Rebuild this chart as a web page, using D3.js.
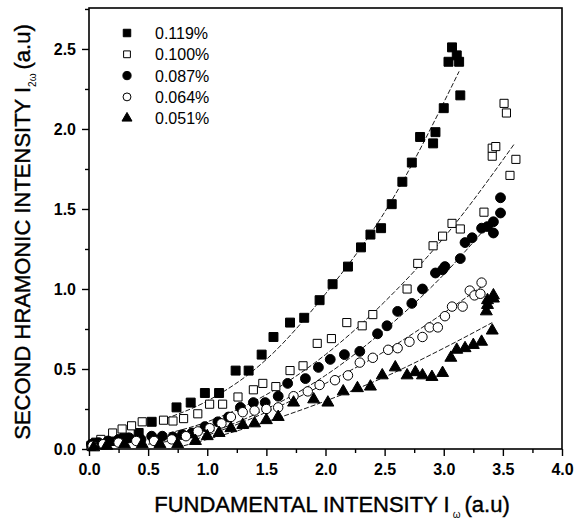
<!DOCTYPE html>
<html>
<head>
<meta charset="utf-8">
<script src="https://cdn.jsdelivr.net/npm/d3@7"></script>
<style>
  body { margin: 0; background: #fff; }
  text { font-family: "Liberation Sans", Arial, sans-serif; }
</style>
</head>
<body>
<div id="content"></div>
<script>
// series labels, same order as in the legend
var seriesNames = ['0.119%', '0.100%', '0.087%', '0.064%', '0.051%'];

var s119 = [[0.02,0.02],[0.06,0.04],[0.12,0.03],[0.2,0.05],[0.3,0.07],[0.42,0.1],[0.53,0.17],
  [0.74,0.26],[0.86,0.29],[0.98,0.35],[1.10,0.35],[1.24,0.49],[1.35,0.49],[1.46,0.59],[1.56,0.70],
  [1.70,0.79],[1.82,0.82],[1.95,0.93],[2.06,1.03],[2.19,1.14],[2.30,1.26],[2.38,1.34],[2.47,1.38],
  [2.56,1.53],[2.65,1.67],[2.73,1.79],[2.80,1.95],[2.91,1.91],[2.93,1.98],[3.00,2.13],[3.04,2.42],
  [3.07,2.51],[3.11,2.46],[3.13,2.42],[3.14,2.21]];
var s100 = [[0.02,0.02],[0.1,0.06],[0.2,0.1],[0.28,0.125],[0.36,0.145],[0.45,0.17],[0.63,0.18],
  [0.71,0.175],[0.80,0.19],[0.92,0.22],[1.02,0.28],[1.13,0.28],[1.26,0.325],[1.39,0.37],[1.47,0.41],
  [1.58,0.39],[1.70,0.49],[1.81,0.52],[1.93,0.66],[2.05,0.69],[2.18,0.79],[2.31,0.77],[2.40,0.84],
  [2.69,1.0],[2.78,1.16],[2.91,1.27],[2.99,1.33],[3.07,1.41],[3.14,1.375],[3.34,1.48],[3.41,1.83],
  [3.41,1.88],[3.44,1.89],[3.51,2.16],[3.53,2.1],[3.56,1.71],[3.61,1.81]];
var s087 = [[0.02,0.03],[0.08,0.04],[0.16,0.05],[0.25,0.06],[0.34,0.07],[0.44,0.06],[0.53,0.08],
  [0.62,0.08],[0.71,0.075],[0.79,0.09],[0.87,0.10],[0.98,0.14],[1.09,0.17],[1.18,0.20],[1.28,0.26],
  [1.39,0.29],[1.49,0.29],[1.60,0.33],[1.68,0.41],[1.83,0.44],[1.94,0.51],[2.04,0.56],[2.16,0.59],
  [2.29,0.61],[2.44,0.72],[2.52,0.77],[2.61,0.86],[2.73,0.91],[2.82,1.0],[2.93,1.1],[2.99,1.12],
  [3.01,1.14],[3.14,1.19],[3.18,1.29],[3.24,1.32],[3.32,1.38],[3.37,1.39],[3.42,1.42],[3.42,1.35],
  [3.48,1.475],[3.48,1.57]];
var s064 = [[0.03,0.02],[0.12,0.03],[0.25,0.04],[0.4,0.05],[0.55,0.05],[0.7,0.06],[0.82,0.08],
  [0.92,0.11],[1.02,0.13],[1.12,0.16],[1.2,0.2],[1.3,0.23],[1.4,0.24],[1.5,0.25],[1.6,0.26],
  [1.73,0.33],[1.85,0.36],[1.95,0.40],[2.08,0.43],[2.19,0.46],[2.29,0.54],[2.40,0.57],[2.53,0.62],
  [2.61,0.63],[2.71,0.67],[2.82,0.70],[2.88,0.76],[2.95,0.76],[3.01,0.83],[3.07,0.89],[3.16,0.89],
  [3.22,0.99],[3.26,0.96],[3.31,0.97],[3.32,1.04]];
var s051 = [[0.04,0.01],[0.15,0.02],[0.3,0.03],[0.45,0.03],[0.6,0.03],[0.75,0.03],[0.9,0.05],
  [1.0,0.08],[1.1,0.1],[1.2,0.13],[1.3,0.15],[1.4,0.16],[1.5,0.18],[1.6,0.2],[1.73,0.29],[1.90,0.31],
  [2.02,0.29],[2.15,0.36],[2.27,0.38],[2.38,0.39],[2.48,0.46],[2.59,0.51],[2.69,0.46],[2.76,0.48],
  [2.82,0.46],[2.90,0.45],[2.99,0.475],[3.06,0.57],[3.11,0.62],[3.18,0.63],[3.25,0.65],[3.32,0.67],
  [3.41,0.74],[3.36,0.86],[3.37,0.9],[3.42,0.94],[3.42,0.96],[3.37,0.93]];

// dashed fit curves
var fit119 = [[0.65,0.19],[1.0,0.30],[1.5,0.56],[2.0,0.97],[2.5,1.48],[3.13,2.36]];
var fit100 = [[0.5,0.07],[1.0,0.17],[1.5,0.34],[2.0,0.59],[2.5,0.92],[3.0,1.32],[3.6,1.91]];
var fit087 = [[0.5,0.03],[1.0,0.10],[1.5,0.25],[2.0,0.46],[2.5,0.745],[3.0,1.09],[3.4,1.42]];
var fit064 = [[0.9,0.06],[1.0,0.085],[1.5,0.23],[2.0,0.41],[2.5,0.61],[3.0,0.85],[3.33,1.02]];
var fit051 = [[0.8,0.02],[1.0,0.06],[1.5,0.17],[2.0,0.30],[2.5,0.45],[3.0,0.63],[3.41,0.79]];

var xTicks = [0, 0.5, 1, 1.5, 2, 2.5, 3, 3.5, 4];
var yTicks = [0, 0.5, 1, 1.5, 2, 2.5];

var W = 575, H = 519;
var margin = {left: 89, right: 13, top: 8, bottom: 70};

var svg = d3.select('#content').append('svg')
    .attr('width', W)
    .attr('height', H);

var x = d3.scaleLinear().domain([0, 4]).range([margin.left, W - margin.right]);
var y = d3.scaleLinear().domain([0, 2.756]).range([H - margin.bottom, margin.top]);

// one entry per series: points, fit, symbol, filled?
var series = [
    {name: seriesNames[0], pts: s119, fit: fit119, sym: d3.symbolSquare, size: 80, fill: true},
    {name: seriesNames[1], pts: s100, fit: fit100, sym: d3.symbolSquare, size: 66, fill: false},
    {name: seriesNames[2], pts: s087, fit: fit087, sym: d3.symbolCircle, size: 76, fill: true},
    {name: seriesNames[3], pts: s064, fit: fit064, sym: d3.symbolCircle, size: 70, fill: false},
    {name: seriesNames[4], pts: s051, fit: fit051, sym: d3.symbolTriangle, size: 62, fill: true}
];

// axes
var minorX = d3.range(0, 4.01, 0.25).filter(function(v) { return xTicks.indexOf(v) < 0; });
var minorY = d3.range(0, 2.751, 0.25).filter(function(v) { return yTicks.indexOf(v) < 0; });

svg.append('g')
    .attr('transform', 'translate(0,' + y(0) + ')')
    .call(d3.axisBottom(x).tickValues(minorX).tickSize(4).tickFormat(''));
svg.append('g')
    .attr('transform', 'translate(' + x(0) + ',0)')
    .call(d3.axisLeft(y).tickValues(minorY).tickSize(4).tickFormat(''));

svg.append('g')
    .attr('transform', 'translate(0,' + y(0) + ')')
    .call(d3.axisBottom(x).tickValues(xTicks).tickSize(7).tickPadding(8)
        .tickFormat(d3.format('.1f')));
svg.append('g')
    .attr('transform', 'translate(' + x(0) + ',0)')
    .call(d3.axisLeft(y).tickValues(yTicks).tickSize(7).tickPadding(6)
        .tickFormat(d3.format('.1f')));

svg.selectAll('.domain').remove();
svg.selectAll('.tick line').attr('stroke', '#000').attr('stroke-width', 1.4);
svg.selectAll('.tick text')
    .attr('fill', '#000')
    .style('font-family', '"Liberation Sans", Arial, sans-serif')
    .style('font-size', '16px')
    .style('font-weight', 'bold');

// frame
svg.append('rect')
    .attr('x', x(0)).attr('y', y(2.756))
    .attr('width', x(4) - x(0)).attr('height', y(0) - y(2.756))
    .attr('fill', 'none').attr('stroke', '#000').attr('stroke-width', 1.6);

// fit curves
var line = d3.line()
    .x(function(d) { return x(d[0]); })
    .y(function(d) { return y(d[1]); })
    .curve(d3.curveMonotoneX);

svg.selectAll('path.fit')
    .data(series)
    .enter().append('path')
    .attr('class', 'fit')
    .attr('d', function(d) { return line(d.fit); })
    .attr('fill', 'none')
    .attr('stroke', '#000')
    .attr('stroke-width', 0.9)
    .attr('stroke-dasharray', '5,2');

// markers
series.forEach(function(s) {
    var shape = d3.symbol().type(s.sym).size(s.size);
    svg.append('g').selectAll('path')
        .data(s.pts)
        .enter().append('path')
        .attr('transform', function(d) { return 'translate(' + x(d[0]) + ',' + y(d[1]) + ')'; })
        .attr('d', shape)
        .attr('fill', s.fill ? '#000' : '#fff')
        .attr('stroke', '#000')
        .attr('stroke-width', 1);
});

// legend
var legend = svg.append('g').attr('transform', 'translate(127,33)');
series.forEach(function(s, i) {
    var g = legend.append('g').attr('transform', 'translate(0,' + (i * 21.3) + ')');
    g.append('path')
        .attr('d', d3.symbol().type(s.sym).size(s.size * 0.7))
        .attr('fill', s.fill ? '#000' : '#fff')
        .attr('stroke', '#000')
        .attr('stroke-width', 1);
    g.append('text')
        .attr('x', 28).attr('y', 6)
        .style('font-size', '16px')
        .text(s.name);
});

// axis titles (slightly heavier than regular, as in the scan)
var xt = svg.append('text')
    .attr('x', 332).attr('y', 512)
    .attr('text-anchor', 'middle')
    .attr('stroke', '#000').attr('stroke-width', 0.4)
    .style('font-size', '22px');
xt.append('tspan').text('FUNDAMENTAL INTENSITY I');
xt.append('tspan').attr('dx', 3).attr('dy', 6).style('font-size', '10px')
    .attr('stroke-width', 0).text('ω');
xt.append('tspan').attr('dx', 4).attr('dy', -6).text('(a.u)');

var yt = svg.append('text')
    .attr('transform', 'translate(30,232) rotate(-90)')
    .attr('text-anchor', 'middle')
    .attr('stroke', '#000').attr('stroke-width', 0.4)
    .style('font-size', '22px');
yt.append('tspan').text('SECOND HRAMONIC INTENSITY I');
yt.append('tspan').attr('dy', 6).style('font-size', '10px')
    .attr('stroke-width', 0).text('2ω');
yt.append('tspan').attr('dx', 4).attr('dy', -6).text('(a.u)');
</script>
</body>
</html>
